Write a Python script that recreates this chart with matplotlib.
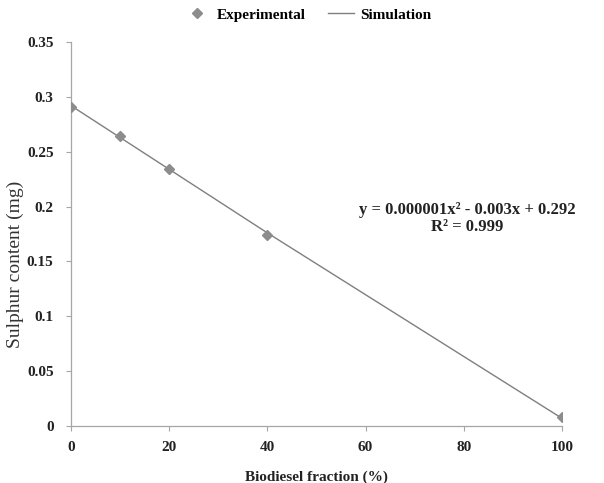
import matplotlib
matplotlib.use("Agg")
import matplotlib.pyplot as plt

x_exp = [0, 10, 20, 40, 100]
y_exp = [0.291, 0.264, 0.234, 0.174, 0.008]
x_sim = [0, 10, 20, 40, 100]
y_sim = [0.292, 0.263, 0.234, 0.176, 0.007]
xticks = [0, 20, 40, 60, 80, 100]
yticks = [0, 0.05, 0.1, 0.15, 0.2, 0.25, 0.3, 0.35]
ytick_labels = ["0", "0.05", "0.1", "0.15", "0.2", "0.25", "0.3", "0.35"]

plt.rcParams['font.family'] = ['Liberation Serif', 'DejaVu Serif']

fig = plt.figure(figsize=(6.04, 4.83), dpi=100)
ax = fig.add_axes([0.1175, 0.118, 0.813, 0.795])

ax.plot(x_sim, y_sim, color='#7f7f7f', lw=1.0, label='Simulation', zorder=2)
ax.plot(x_exp, y_exp, linestyle='none', marker='D', ms=5, color='#8c8c8c',
        markeredgecolor='#8c8c8c', label='Experimental', zorder=3)

ax.set_xlim(0, 100)
ax.set_ylim(0, 0.35)
ax.set_xticks(xticks)
ax.set_yticks(yticks)
ax.set_yticklabels(ytick_labels)
for s in ['top', 'right']:
    ax.spines[s].set_visible(False)
for s in ['left', 'bottom']:
    ax.spines[s].set_color('#a6a6a6')
    ax.spines[s].set_linewidth(0.9)
ax.tick_params(direction='out', length=3.5, color='#a6a6a6', labelsize=11)
ax.tick_params(axis='y', pad=9)
ax.tick_params(axis='x', pad=7)
for lab in ax.get_xticklabels() + ax.get_yticklabels():
    lab.set_fontweight('bold')
    lab.set_color('#222222')

ax.set_xlabel('Biodiesel fraction (%)', fontsize=11, fontweight='bold', labelpad=12, color='#222222')
ax.set_ylabel('Sulphur content (mg)', fontsize=14, fontweight='normal', color='#333333')
ax.yaxis.set_label_coords(-0.095, 0.42)

ax.text(0.807, 0.54, 'y = 0.000001x² - 0.003x + 0.292\nR² = 0.999',
        transform=ax.transAxes, ha='center', va='center', fontsize=12,
        fontweight='bold', color='#222222', linespacing=1.05)

handles, labels = ax.get_legend_handles_labels()
fig.legend([handles[1], handles[0]], [labels[1], labels[0]], loc='upper center',
           bbox_to_anchor=(0.51, 1.012), ncol=2, frameon=False,
           prop={'weight': 'bold', 'size': 11}, handlelength=1.7,
           handletextpad=0.4, columnspacing=1.5)

fig.savefig('out.png', dpi=100)
